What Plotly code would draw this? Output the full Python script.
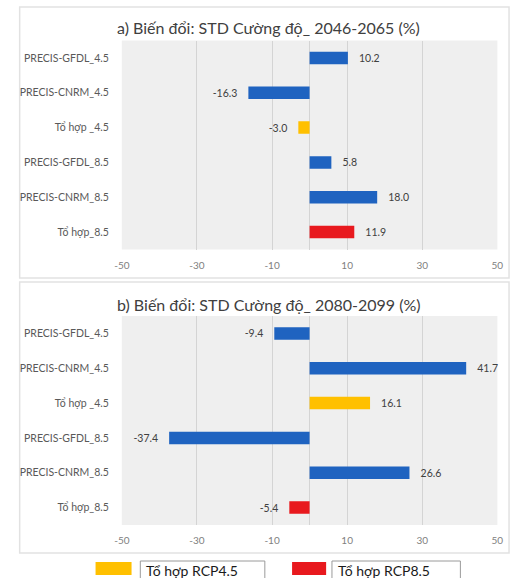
import plotly.graph_objects as go

# Categories (top to bottom) and change in STD intensity (%)
categories = ["PRECIS-GFDL_4.5", "PRECIS-CNRM_4.5", "Tổ hợp _4.5",
              "PRECIS-GFDL_8.5", "PRECIS-CNRM_8.5", "Tổ hợp_8.5"]
change_2046_2065 = [10.2, -16.3, -3.0, 5.8, 18.0, 11.9]
change_2080_2099 = [-9.4, 41.7, 16.1, -37.4, 26.6, -5.4]
titles = ["a) Biến đổi: STD Cường độ_ 2046-2065 (%)",
          "b) Biến đổi: STD Cường độ_ 2080-2099 (%)"]
x_ticks = [-50, -30, -10, 10, 30, 50]
x_tick_labels = ["-50", "-30", "-10", "10", "30", "50"]
legend_labels = ["Tổ hợp RCP4.5", "Tổ hợp RCP8.5"]

BLUE = "#1f63c0"
YELLOW = "#ffc000"
RED = "#e8191e"
bar_colors = [BLUE, BLUE, YELLOW, BLUE, BLUE, RED]

W, H = 516, 578
FONT = "Lato, 'Open Sans', sans-serif"


def px(x):
    return x / W


def py(y):
    return 1 - y / H


def label(v):
    # pad the value label away from the bar end
    s = f"{v:.1f}"
    return f"   {s}" if v >= 0 else f"{s}   "


fig = go.Figure()

panels = [
    # (values, x-axis id, y-axis id, plot top, plot bottom, frame top, frame bottom, title y)
    (change_2046_2065, "x", "y", 40.5, 249.5, 7, 278, 28),
    (change_2080_2099, "x2", "y2", 316, 525, 282, 553, 304),
]

shapes = []
annotations = []

for i, (vals, xa, ya, top, bot, ftop, fbot, ty) in enumerate(panels):
    fig.add_trace(go.Bar(
        x=vals, y=categories, orientation="h",
        xaxis=xa, yaxis=ya,
        marker=dict(color=bar_colors, line=dict(width=0)),
        text=[label(v) for v in vals], textposition="outside",
        textfont=dict(family=FONT, size=10.5, color="#404040"),
        cliponaxis=False, showlegend=False, hoverinfo="x+y",
    ))
    suffix = "" if i == 0 else "2"
    fig.layout["xaxis" + suffix] = dict(
        domain=[px(117), px(503)], anchor=ya, range=[-50, 50],
        tickvals=x_ticks, ticktext=x_tick_labels,
        showgrid=True, gridcolor="#d4d4d4", gridwidth=1,
        zeroline=True, zerolinecolor="#d4d4d4", zerolinewidth=1,
        showline=False, ticks="", ticklabelstandoff=8,
        tickfont=dict(family=FONT, size=10, color="#808080"),
        fixedrange=True,
    )
    fig.layout["yaxis" + suffix] = dict(
        domain=[py(bot), py(top)], anchor=xa,
        categoryorder="array", categoryarray=categories,
        autorange="reversed", showgrid=False, zeroline=False,
        ticks="", ticklabelstandoff=12,
        tickfont=dict(family=FONT, size=10.5, color="#595959"),
        fixedrange=True,
    )
    # panel frame
    shapes.append(dict(type="rect", xref="paper", yref="paper", layer="below",
                       x0=px(12), x1=px(515), y0=py(fbot), y1=py(ftop),
                       line=dict(color="#e2e2e2", width=1.5), fillcolor="white"))
    # plot area background
    shapes.append(dict(type="rect", xref="paper", yref="paper", layer="below",
                       x0=px(117), x1=px(503), y0=py(bot), y1=py(top),
                       line=dict(width=0), fillcolor="#efefef"))
    annotations.append(dict(text=titles[i], xref="paper", yref="paper",
                            x=px(268), y=py(ty), xanchor="center", yanchor="middle",
                            showarrow=False,
                            font=dict(family=FONT, size=16, color="#404040")))

# custom legend: swatch + outlined label box
legend_items = [(YELLOW, 90, 127, 136, 264), (RED, 292, 327, 333, 465)]
for (color, sx0, sx1, bx0, bx1), text in zip(legend_items, legend_labels):
    shapes.append(dict(type="rect", xref="paper", yref="paper",
                       x0=px(sx0), x1=px(sx1), y0=py(575), y1=py(562),
                       line=dict(width=0), fillcolor=color))
    shapes.append(dict(type="rect", xref="paper", yref="paper",
                       x0=px(bx0), x1=px(bx1), y0=py(580), y1=py(561),
                       line=dict(color="#9a9a9a", width=1), fillcolor="white"))
    annotations.append(dict(text=text, xref="paper", yref="paper",
                            x=px(bx0 + 4), y=py(570), xanchor="left", yanchor="middle",
                            showarrow=False,
                            font=dict(family=FONT, size=14, color="#1a1a1a")))

fig.update_layout(
    width=W, height=H, margin=dict(l=0, r=0, t=0, b=0),
    paper_bgcolor="white", plot_bgcolor="rgba(0,0,0,0)",
    bargap=0.64, shapes=shapes, annotations=annotations,
    font=dict(family=FONT),
)

fig.write_html("out.html")
